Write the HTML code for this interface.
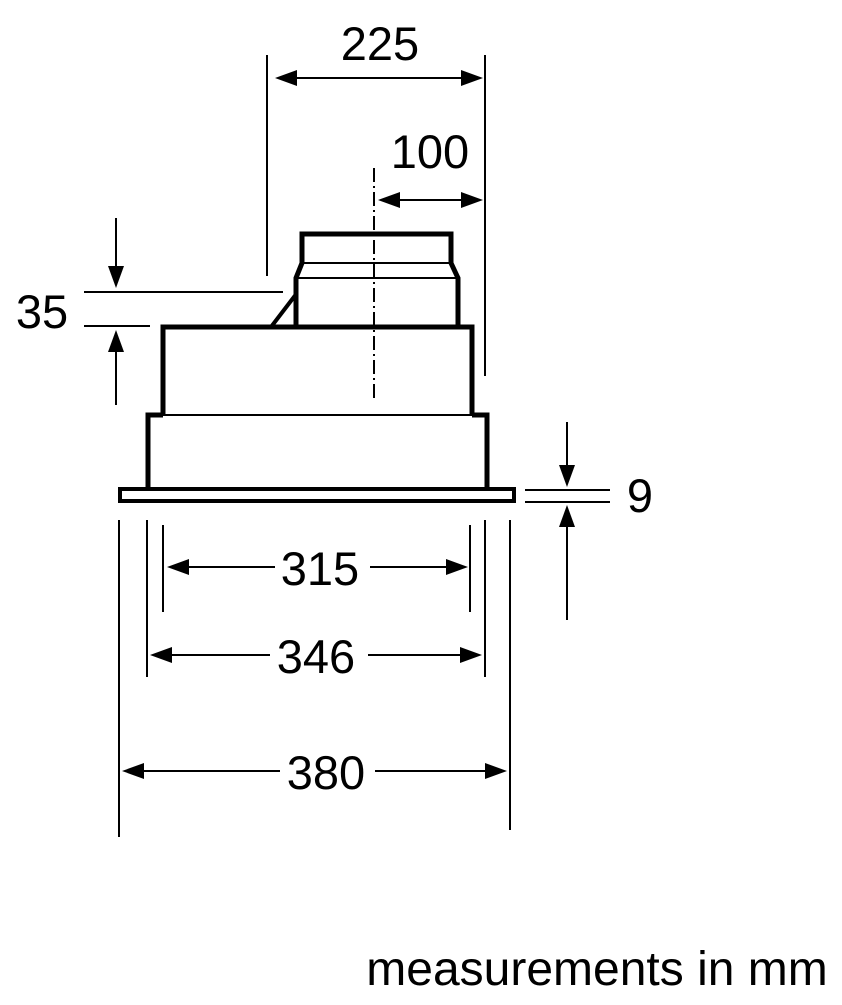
<!DOCTYPE html>
<html><head><style>body{margin:0;background:#fff}</style></head><body>
<svg width="842" height="1000" viewBox="0 0 842 1000" xmlns="http://www.w3.org/2000/svg" font-family="Liberation Sans, sans-serif">
<g stroke="#000" fill="none">
<path d="M302,263 V234 H451 V263" stroke-width="5"/>
<line x1="302" y1="263" x2="451" y2="263" stroke-width="2"/>
<path d="M302,263 L296,278 V327 M451,263 L458,278 V327" stroke-width="5"/>
<line x1="296" y1="278" x2="458" y2="278" stroke-width="2"/>
<line x1="297" y1="293" x2="271" y2="327" stroke-width="4"/>
<line x1="296" y1="290" x2="296" y2="327" stroke-width="2"/>
<path d="M163,415 V327 H472 V415" stroke-width="5"/>
<line x1="271" y1="327" x2="458" y2="327" stroke-width="2"/>
<line x1="163" y1="415" x2="472" y2="415" stroke-width="2"/>
<path d="M163,415 H148 V490 M472,415 H487 V490" stroke-width="5"/>
<rect x="120" y="489" width="394" height="12" stroke-width="4"/>
<line x1="374" y1="168" x2="374" y2="400" stroke-width="2" stroke-dasharray="14,4,2,4"/>
<g stroke-width="2">
<line x1="267" y1="55" x2="267" y2="276"/>
<line x1="485" y1="55" x2="485" y2="376"/>
<line x1="84" y1="292" x2="283" y2="292"/>
<line x1="84" y1="326" x2="150" y2="326"/>
<line x1="525" y1="490" x2="610" y2="490"/>
<line x1="525" y1="502" x2="610" y2="502"/>
<line x1="163" y1="525" x2="163" y2="612"/>
<line x1="470" y1="525" x2="470" y2="612"/>
<line x1="147" y1="520" x2="147" y2="677"/>
<line x1="485" y1="520" x2="485" y2="677"/>
<line x1="119" y1="520" x2="119" y2="837"/>
<line x1="510" y1="520" x2="510" y2="830"/>
<line x1="280" y1="78" x2="472" y2="78"/>
<line x1="385" y1="200" x2="472" y2="200"/>
<line x1="116" y1="218" x2="116" y2="270"/>
<line x1="116" y1="350" x2="116" y2="405"/>
<line x1="567" y1="422" x2="567" y2="470"/>
<line x1="567" y1="525" x2="567" y2="620"/>
<line x1="180" y1="567" x2="275" y2="567"/>
<line x1="370" y1="567" x2="455" y2="567"/>
<line x1="165" y1="655" x2="270" y2="655"/>
<line x1="368" y1="655" x2="470" y2="655"/>
<line x1="135" y1="771" x2="280" y2="771"/>
<line x1="375" y1="771" x2="495" y2="771"/>
</g></g>
<g fill="#000">
<path d="M275,78 l22,-8 v16z"/><path d="M483,78 l-22,-8 v16z"/>
<path d="M378,200 l22,-8 v16z"/><path d="M483,200 l-22,-8 v16z"/>
<path d="M116,288 l-8,-22 h16z"/><path d="M116,330 l-8,22 h16z"/>
<path d="M567,487 l-8,-22 h16z"/><path d="M567,505 l-8,22 h16z"/>
<path d="M167,567 l22,-8 v16z"/><path d="M468,567 l-22,-8 v16z"/>
<path d="M150,655 l22,-8 v16z"/><path d="M482,655 l-22,-8 v16z"/>
<path d="M122,771 l22,-8 v16z"/><path d="M507,771 l-22,-8 v16z"/>
</g>
<g font-size="47" fill="#000" text-anchor="middle">
<text x="380" y="60">225</text>
<text x="430" y="168">100</text>
<text x="42" y="328">35</text>
<text x="640" y="512">9</text>
<text x="320" y="585">315</text>
<text x="316" y="673">346</text>
<text x="326" y="789">380</text>
<text x="597" y="985" font-size="48">measurements in mm</text>
</g>
</svg>
</body></html>
